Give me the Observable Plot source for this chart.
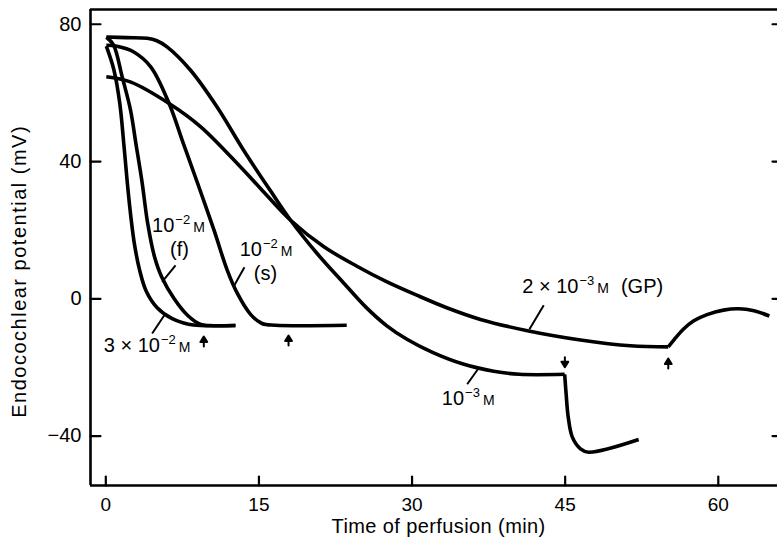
<!DOCTYPE html>
<html><head><meta charset="utf-8">
<script src="https://cdn.jsdelivr.net/npm/d3@7"></script>
<script src="https://cdn.jsdelivr.net/npm/@observablehq/plot@0.6"></script>
<style>
html,body{margin:0;padding:0;background:#fff;}
#chart{width:777px;height:543px;overflow:hidden;}
</style></head><body><div id="chart"></div>
<script>
// ---- axes ----
const xDomain = [-1.5, 65.8];
const yDomain = [-54.4, 84.3];
const xTicks = [0, 15, 30, 45, 60];
const yTicks = [-40, 0, 40, 80];
const xTitle = "Time of perfusion (min)";
const yTitle = "Endocochlear potential (mV)";

// ---- series (time in min, potential in mV) ----
// 3 x 10^-2 M
const x3e2 = [0.05, 0.8, 1.37, 1.76, 2.1, 2.45, 2.8, 3.3, 3.95, 5.03, 6.5, 8.1, 9.3, 12.7];
const y3e2 = [73.6, 66.6, 56.9, 45.2, 34, 24, 16, 8.5, 2.3, -2.6, -5.8, -7.4, -7.8, -7.8];
// 10^-2 M (f)
const xF = [0.05, 0.75, 1.6, 2.42, 2.95, 3.55, 4.1, 4.75, 5.5, 6.7, 8.0, 9.3, 10.2, 12.7];
const yF = [76.2, 74.0, 64.7, 55.0, 45.2, 34.0, 22.0, 12.5, 6.2, 0.0, -4.8, -7.5, -7.8, -7.8];
// 10^-2 M (s)
const xS = [0.05, 1.1, 2.7, 4.4, 6.2, 7.6, 9.0, 10.6, 11.9, 12.9, 14.2, 15.3, 16.6, 23.6];
const yS = [73.9, 73.6, 72.0, 67.6, 56.9, 45.2, 33.6, 20.0, 8.3, 1.5, -4.6, -7.2, -7.7, -7.7];
// 10^-3 M, before and after the change at 45 min
const xT3a = [0.05, 2.0, 4.05, 5.0, 6.0, 8.3, 10.9, 13.5, 16.1, 18.1, 20.7, 23.3, 25.5, 27.5, 29.5, 32.0, 35.0, 38.0, 40.5, 44.95];
const yT3a = [76.3, 76.1, 75.9, 75.2, 73.4, 66.6, 55.9, 43.3, 31.6, 22.9, 13.2, 4.6, -2.5, -7.8, -11.8, -15.6, -19.0, -21.1, -22.0, -22.0];
const xT3b = [44.95, 45.1, 45.3, 45.7, 46.5, 47.3, 52.2];
const yT3b = [-22.0, -28, -34.5, -40.3, -43.7, -44.7, -41.0];
// 2 x 10^-3 M (GP), before and after the change at 55 min
const xGPa = [0.05, 2.4, 6.2, 9.3, 13.2, 15.2, 18.1, 21.4, 24.6, 27.5, 30.5, 33.4, 36.7, 41.3, 46.5, 51.4, 55.1];
const yGPa = [64.7, 63.2, 56.9, 50.1, 38.4, 32.0, 22.9, 15.1, 9.5, 5.0, 1.0, -2.6, -6.0, -9.3, -12.0, -13.7, -14.0];
const xGPb = [55.1, 55.7, 56.6, 57.6, 58.9, 60.5, 62.0, 63.5, 65.0];
const yGPb = [-14.0, -11.8, -8.8, -6.4, -4.6, -3.3, -2.9, -3.5, -5.0];

// ---- annotations (data units) ----
const labelText = ["10^−2 M", "(f)", "10^−2 M", "(s)", "3 × 10^−2 M", "10^−3 M", "2 × 10^−3 M (GP)"];
const labelX = [7.12, 7.21, 15.7, 15.64, 4.04, 35.5, 47.7];
const labelY = [21.4, 14.4, 14.3, 7.3, -13.6, -29.2, 3.5];
const leadX1 = [6.83, 13.58, 5.85, 36.5, 42.9];
const leadY1 = [9.77, 9.18, -4.3, -20.3, -1.9];
const leadX2 = [5.52, 12.54, 4.54, 35.4, 41.5];
const leadY2 = [4.9, 3.64, -10.1, -24.9, -8.9];
const arrowX = [9.6, 17.9, 44.97, 55.1];
const arrowTailY = [-13.9, -13.6, -17.0, -20.3];
const arrowDir = ["up", "up", "down", "up"];

// ---- build tables ----
function seg(name, xs, ys) { return xs.map((x, i) => ({seg: name, x, y: ys[i]})); }
const rows = [
  ...seg("3e-2", x3e2, y3e2),
  ...seg("1e-2f", xF, yF),
  ...seg("1e-2s", xS, yS),
  ...seg("1e-3a", xT3a, yT3a),
  ...seg("1e-3b", xT3b, yT3b),
  ...seg("2e-3a", xGPa, yGPa),
  ...seg("2e-3b", xGPb, yGPb)
];
const labels = labelText.map((t, i) => ({t, x: labelX[i], y: labelY[i]}));
const leaders = leadX1.map((x1, i) => ({x1, y1: leadY1[i], x2: leadX2[i], y2: leadY2[i]}));
const arrows = arrowX.map((x, i) => ({x, y: arrowTailY[i], r: arrowDir[i] === "up" ? 0 : 180}));

const tickShape = {draw(ctx, l) { ctx.moveTo(0, 0); ctx.lineTo(0, -l); }};
const arrowShape = {draw(ctx, l) {
  ctx.moveTo(0, 0); ctx.lineTo(0, -l + 5);
  ctx.moveTo(-3.4, -l + 5.5); ctx.lineTo(0, -l); ctx.lineTo(3.4, -l + 5.5); ctx.closePath();
}};

const chart = Plot.plot({
  width: 777, height: 543,
  marginLeft: 90, marginRight: 0, marginTop: 9, marginBottom: 58,
  x: {domain: xDomain},
  y: {domain: yDomain},
  style: {fontFamily: "'Liberation Sans', Arial, sans-serif", color: "black", background: "white", overflow: "visible"},
  marks: [
    Plot.ruleX([xDomain[0]], {strokeWidth: 2.6}),
    Plot.ruleY([yDomain[0], yDomain[1]], {strokeWidth: 2.4}),
    Plot.vector(yTicks, {x: xDomain[0], y: d => d, length: 10, rotate: 90, anchor: "start", shape: tickShape, strokeWidth: 2.2}),
    Plot.vector(yTicks, {x: xDomain[1], y: d => d, length: 5, rotate: 270, anchor: "start", shape: tickShape, strokeWidth: 2.2}),
    Plot.vector(xTicks, {x: d => d, y: yDomain[0], length: 9, rotate: 0, anchor: "start", shape: tickShape, strokeWidth: 2.2}),
    Plot.axisY({ticks: yTicks, tickSize: 0, tickPadding: 9, fontSize: 20, label: null}),
    Plot.axisX({ticks: xTicks, tickSize: 0, tickPadding: 12, fontSize: 19, label: null}),
    Plot.line(rows, {x: "x", y: "y", z: "seg", curve: "catmull-rom", stroke: "black", strokeWidth: 3.6, strokeLinejoin: "round", strokeLinecap: "butt"}),
    Plot.link(leaders, {x1: "x1", y1: "y1", x2: "x2", y2: "y2", stroke: "black", strokeWidth: 2}),
    Plot.vector(arrows, {x: "x", y: "y", rotate: "r", length: 10, anchor: "start", shape: arrowShape, stroke: "black", fill: "black", strokeWidth: 2}),
    Plot.text(labels, {x: "x", y: "y", text: "t", fontSize: 20}),
    Plot.text([xTitle], {x: 32.6, frameAnchor: "bottom", lineAnchor: "middle", dy: 41, fontSize: 20}),
    Plot.text([yTitle], {frameAnchor: "left", y: 8, dx: -71, rotate: -90, textAnchor: "middle", lineAnchor: "middle", fontSize: 20})
  ]
});

// superscripts and small-capital M in the concentration labels
const NS = "http://www.w3.org/2000/svg";
chart.querySelectorAll("text").forEach(t => {
  const s = t.textContent;
  if (s === xTitle) t.setAttribute("letter-spacing", "0.4");
  if (s === yTitle) t.setAttribute("letter-spacing", "1.5");
  if (!s.includes("^")) return;
  const m = s.match(/^(.*?)\^(\S+)\s*M\s*(.*)$/);
  if (!m) return;
  t.textContent = "";
  const add = (str, attrs) => {
    const ts = document.createElementNS(NS, "tspan");
    ts.textContent = str;
    for (const k in attrs) ts.setAttribute(k, attrs[k]);
    t.appendChild(ts);
  };
  add(m[1], {});
  add(m[2], {dy: "-8", dx: "1", "font-size": "13"});
  add("M", {dy: "8", dx: "3", "font-size": "14"});
  if (m[3]) add(m[3], {dx: "12"});
});

document.getElementById("chart").appendChild(chart);
</script></body></html>
